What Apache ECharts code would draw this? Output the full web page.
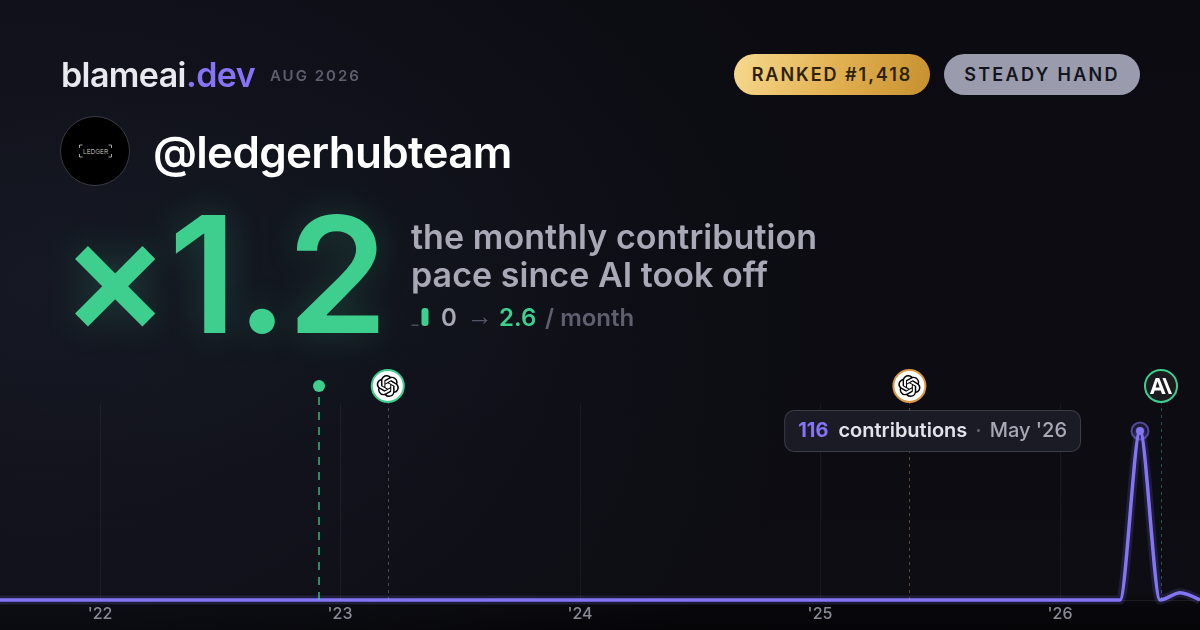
<!DOCTYPE html>
<html><head><meta charset="utf-8">
<style>
html,body{margin:0;padding:0;background:#0b0b11;}
#page{position:relative;width:1200px;height:630px;overflow:hidden;font-family:Inter,sans-serif;
 background:
 radial-gradient(ellipse 800px 560px at 40px 280px, rgba(34,38,58,.42), rgba(34,38,58,0) 100%),
 radial-gradient(ellipse 400px 200px at 230px 280px, rgba(61,214,140,.03), rgba(61,214,140,0) 100%),
 linear-gradient(180deg,#0b0b11 0%,#0c0c12 60%,#0d0d13 94%,#08080c 96%,#050508 100%);}
#chart{position:absolute;left:0;top:0;width:1200px;height:630px;}
.t{position:absolute;white-space:nowrap;}
#brand{left:61px;top:55px;font-size:34px;line-height:40px;font-weight:600;letter-spacing:-.6px;color:#e8e8ee;}
#brand span{color:#8674f6;}
#date{left:270px;top:66px;font-size:15px;line-height:20px;font-weight:600;letter-spacing:2px;color:#5e5e6f;}
.badge{position:absolute;top:54px;height:41px;width:196px;border-radius:21px;font-size:18px;line-height:41px;font-weight:600;text-align:center;}
#rank{left:734px;letter-spacing:1.97px;background:linear-gradient(105deg,#f6d98f 0%,#e3b253 50%,#c6902f 100%);color:#2d2109;}
#kind{left:944px;letter-spacing:2.3px;background:#9a9cae;color:#14141c;}
#avatar{position:absolute;left:60px;top:116px;width:68px;height:68px;border:1px solid #3a3a42;border-radius:50%;background:#000;}
#handle{left:153px;top:124px;font-size:44px;line-height:56px;font-weight:600;letter-spacing:-.7px;color:#fff;}
#big{left:60.5px;top:171px;font-size:162px;line-height:206px;font-weight:600;letter-spacing:-.9px;color:#3ecf8e;text-shadow:0 0 36px rgba(62,207,142,.22);}
#tag{left:411px;top:218px;font-size:34px;line-height:38px;font-weight:600;letter-spacing:.05px;color:#a8a8b6;}
#sub{left:441px;top:303px;font-size:24px;line-height:30px;font-weight:600;color:#5f5f6f;}
#sub b{font-weight:600;}
#sub .a{position:absolute;left:26px;top:-2px;font-size:26px;font-family:"Liberation Sans";font-weight:400;color:#55556a;}
#sub .v{position:absolute;left:58px;top:0;color:#3ecf8e;}
#sub .m{position:absolute;left:104px;top:0;}
</style></head><body>
<div id="page">
<div id="chart"></div>
<div class="t" id="brand">blameai<span>.dev</span></div>
<div class="t" id="date">AUG 2026</div>
<div class="badge" id="rank">RANKED #1,418</div>
<div class="badge" id="kind">STEADY HAND</div>
<div id="avatar"><svg width="68" height="68" viewBox="0 0 68 68"><path d="M18.5 31v-3h3M50.5 31v-3h-3M18.5 37v3h3M50.5 37v3h-3" fill="none" stroke="#e8e8e8" stroke-width=".7"/><text x="34.5" y="36.5" text-anchor="middle" font-family="Inter" font-weight="300" font-size="6.5" fill="#ddd">LEDGER</text></svg></div>
<div class="t" id="handle">@ledgerhubteam</div>
<div class="t" id="big">×1.2</div>
<div class="t" id="tag">the monthly contribution<br>pace since AI took off</div>
<div class="t" id="sub"><b style="color:#a8a8b6">0</b><span class="a">→</span><span class="v">2.6</span><span class="m">/ month</span></div>
</div>
<script src="https://cdn.jsdelivr.net/npm/echarts@6/dist/echarts.min.js"></script>
<script>
// months run Aug '21 .. Aug '26 (index 0..60)
const contributions = [0,0,0,0,0,0,0,0,0,0,0,0,0,0,0,0,0,0,0,0,0,0,0,0,0,0,0,0,0,0,0,0,0,0,0,0,0,0,0,0,0,0,0,0,0,0,0,0,0,0,0,0,0,0,0,0,0,116,0,5,0];
const yearTickIdx = [5,17,29,41,53];
const yearLabels = ["'22","'23","'24","'25","'26"];
const peakIdx = 57, peakValue = 116, peakMonth = "May '26";
const eventIdx = [15.95,19.39,45.47,58.05];
const eventKind = ["dot","openai","openai","anthropic"];
const eventRing = ["#3ecf8e","#3ecf8e","#d99a45","#3ecf8e"];
const eventLine = ["rgba(62,207,142,.65)","rgba(150,170,165,.4)","rgba(205,160,100,.4)","rgba(62,207,142,.4)"];
const paceBefore = 0, paceAfter = 2.6;

const Y_TOP = 135, Y_ICON = 146.9, Y_MAX = 151;
const openaiPath = "path://M22.2819 9.8211a5.9847 5.9847 0 0 0-.5157-4.9108 6.0462 6.0462 0 0 0-6.5098-2.9A6.0651 6.0651 0 0 0 4.9807 4.1818a5.9847 5.9847 0 0 0-3.9977 2.9 6.0462 6.0462 0 0 0 .7427 7.0966 5.98 5.98 0 0 0 .511 4.9107 6.051 6.051 0 0 0 6.5146 2.9001A5.9847 5.9847 0 0 0 13.2599 24a6.0557 6.0557 0 0 0 5.7718-4.2058 5.9894 5.9894 0 0 0 3.9977-2.9001 6.0557 6.0557 0 0 0-.7475-7.0729zm-9.022 12.6081a4.4755 4.4755 0 0 1-2.8764-1.0408l.1419-.0804 4.7783-2.7582a.7948.7948 0 0 0 .3927-.6813v-6.7369l2.02 1.1686a.071.071 0 0 1 .038.052v5.5826a4.504 4.504 0 0 1-4.4945 4.4944zm-9.6607-4.1254a4.4708 4.4708 0 0 1-.5346-3.0137l.142.0852 4.783 2.7582a.7712.7712 0 0 0 .7806 0l5.8428-3.3685v2.3324a.0804.0804 0 0 1-.0332.0615L9.74 19.9502a4.4992 4.4992 0 0 1-6.1408-1.6464zM2.3408 7.8956a4.485 4.485 0 0 1 2.3655-1.9728V11.6a.7664.7664 0 0 0 .3879.6765l5.8144 3.3543-2.0201 1.1685a.0757.0757 0 0 1-.071 0l-4.8303-2.7865A4.504 4.504 0 0 1 2.3408 7.872zm16.5963 3.8558L13.1038 8.364 15.1192 7.2a.0757.0757 0 0 1 .071 0l4.8303 2.7913a4.4944 4.4944 0 0 1-.6765 8.1042v-5.6772a.79.79 0 0 0-.407-.667zm2.0107-3.0231l-.142-.0852-4.7735-2.7818a.7759.7759 0 0 0-.7854 0L9.409 9.2297V6.8974a.0662.0662 0 0 1 .0284-.0615l4.8303-2.7866a4.4992 4.4992 0 0 1 6.6802 4.66zM8.3065 12.863l-2.02-1.1638a.0804.0804 0 0 1-.038-.0567V6.0742a4.4992 4.4992 0 0 1 7.3757-3.4537l-.142.0805L8.704 5.459a.7948.7948 0 0 0-.3927.6813zm1.0976-2.3654l2.602-1.4998 2.6069 1.4998v2.9994l-2.5974 1.4997-2.6067-1.4997Z";
const anthropicPath = "path://M7 2h4L18 22h-4l-1.4-4.4H6L4.6 22H.8ZM9 6.2 7 14h4.4ZM14.5 2h3.4L25 22h-3.6Z";

const lineData = contributions.map((v,i)=>[i,v]);
const vLine = (x,y0,y1,style)=>[{coord:[x,y0],lineStyle:style},{coord:[x,y1]}];
const curve = .3;

const chart = echarts.init(document.getElementById('chart'),null,{renderer:'canvas'});
chart.setOption({
  animation:false,
  backgroundColor:'transparent',
  grid:[
    {left:0,right:0,top:380,height:220,containLabel:false},
    {left:410,top:308,width:20,height:18}
  ],
  xAxis:[
    {type:'value',min:0,max:60,gridIndex:0,splitLine:{show:false},axisTick:{show:false},
     axisLine:{show:true,onZero:true,lineStyle:{color:'rgba(255,255,255,.08)',width:1}},
     axisLabel:{show:true,customValues:yearTickIdx,margin:6,color:'#8a8a97',fontFamily:'Inter',fontSize:16,fontWeight:500,
       formatter:v=>yearLabels[yearTickIdx.indexOf(v)]||''}},
    {type:'category',gridIndex:1,data:['before','after'],show:false}
  ],
  yAxis:[
    {type:'value',min:0,max:Y_MAX,gridIndex:0,show:false},
    {type:'value',min:0,max:paceAfter,gridIndex:1,show:false}
  ],
  series:[
    {type:'line',id:'grid',xAxisIndex:0,yAxisIndex:0,data:[],silent:true,z:1,
     markLine:{silent:true,symbol:'none',label:{show:false},animation:false,
       data:yearTickIdx.map(x=>vLine(x,0,Y_TOP,{color:'rgba(255,255,255,.05)',width:1,type:'solid'}))}},
    {type:'line',id:'events',xAxisIndex:0,yAxisIndex:0,data:[],silent:true,z:2,
     markLine:{silent:true,symbol:'none',label:{show:false},animation:false,
       data:eventIdx.map((x,i)=>vLine(x,0,Y_ICON,{color:eventLine[i],width:i===0?2:1,type:i===0?[8,7]:[3,4]}))}},
    {type:'line',id:'glow',data:lineData,smooth:curve,smoothMonotone:'x',showSymbol:false,clip:false,z:3,
     lineStyle:{color:'rgba(132,116,246,.16)',width:9}},
    {type:'line',id:'main',data:lineData,smooth:curve,smoothMonotone:'x',showSymbol:false,clip:false,z:4,
     lineStyle:{color:'#8474f6',width:3.5}},
    {type:'scatter',id:'dots',z:5,symbol:'circle',symbolSize:12,clip:false,
     data:eventIdx.map((x,i)=>eventKind[i]==='dot'?[x,Y_ICON]:null).filter(Boolean),itemStyle:{color:'#3ecf8e',opacity:1}},
    {type:'scatter',id:'rings',z:5,symbol:'circle',symbolSize:32,clip:false,
     data:eventIdx.map((x,i)=>eventKind[i]==='dot'?null:{value:[x,Y_ICON],itemStyle:{opacity:1,
        color:eventKind[i]==='anthropic'?'#1c1c20':'#fff',borderColor:eventRing[i],borderWidth:2}}).filter(Boolean)},
    {type:'scatter',id:'openai',z:6,symbol:openaiPath,symbolSize:22,clip:false,itemStyle:{color:'#000',opacity:1},
     data:eventIdx.map((x,i)=>eventKind[i]==='openai'?[x,Y_ICON]:null).filter(Boolean)},
    {type:'scatter',id:'anthropic',z:6,symbol:anthropicPath,symbolSize:[22,16],clip:false,itemStyle:{color:'#fff',opacity:1},
     data:eventIdx.map((x,i)=>eventKind[i]==='anthropic'?[x,Y_ICON]:null).filter(Boolean)},
    {type:'scatter',id:'peakRing',z:7,symbol:'circle',symbolSize:17,clip:false,
     itemStyle:{opacity:1,color:'rgba(132,116,246,.14)',borderColor:'rgba(132,116,246,.55)',borderWidth:2},
     data:[[peakIdx,peakValue]]},
    {type:'scatter',id:'peak',z:8,symbol:'circle',symbolSize:8,clip:false,itemStyle:{color:'#8474f6',opacity:1},
     data:[[peakIdx,peakValue]],
     label:{show:true,position:'left',distance:56,
       formatter:()=>`{v|${peakValue}}{c|contributions}{d|·}{m|${peakMonth}}`,
       backgroundColor:'#1b1b26',borderColor:'#3c3c48',borderWidth:1,borderRadius:9,padding:[10,13,10,13],
       rich:{
         v:{color:'#8474f6',fontFamily:'Inter',fontSize:20,fontWeight:700,lineHeight:20,padding:[0,10,0,0]},
         c:{color:'#e3e3ea',fontFamily:'Inter',fontSize:20,fontWeight:600,lineHeight:20},
         d:{color:'#5f5f6f',fontFamily:'Inter',fontSize:20,fontWeight:600,lineHeight:20,padding:[0,8,0,8]},
         m:{color:'#a8a8b6',fontFamily:'Inter',fontSize:20,fontWeight:500,lineHeight:20}
       }}},
    {type:'bar',id:'pace',xAxisIndex:1,yAxisIndex:1,barWidth:7,barMinHeight:1.5,
     data:[{value:paceBefore,itemStyle:{color:'#4a4a58',borderRadius:0}},
           {value:paceAfter,itemStyle:{color:'#3ecf8e',borderRadius:3}}]}
  ]
});
</script>
</body></html>
